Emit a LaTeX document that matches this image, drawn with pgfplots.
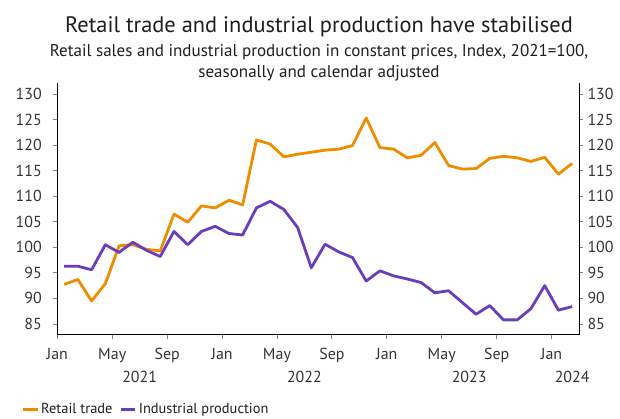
\documentclass[border=0pt]{standalone}
\usepackage{pgfplots}
\pgfplotsset{compat=1.18}
\usepackage{pgfplotstable}
\usepackage{fontspec}
\setmainfont{PT Sans}

\definecolor{retail}{RGB}{240,140,0}
\definecolor{indprod}{RGB}{106,61,186}
\definecolor{txt}{RGB}{30,30,30}
\definecolor{ticklbl}{RGB}{51,51,51}

% Monthly index values, m = months since Jan 2021
\pgfplotstableread{
m  retail industrial
0  92.75  96.3
1  93.7   96.3
2  89.5   95.6
3  92.9   100.5
4  100.3  99.0
5  100.5  101.0
6  99.6   99.4
7  99.3   98.2
8  106.5  103.1
9  104.9  100.5
10 108.1  103.1
11 107.7  104.1
12 109.2  102.7
13 108.3  102.4
14 121.0  107.7
15 120.2  109.0
16 117.7  107.4
17 118.2  103.9
18 118.6  96.0
19 119.0  100.6
20 119.2  99.1
21 119.9  98.0
22 125.3  93.4
23 119.5  95.4
24 119.2  94.4
25 117.5  93.8
26 118.0  93.1
27 120.5  91.1
28 116.0  91.5
29 115.3  89.2
30 115.4  86.9
31 117.4  88.6
32 117.8  85.8
33 117.5  85.8
34 116.8  88.0
35 117.6  92.5
36 114.3  87.7
37 116.4  88.4
}\indexdata

\pgfplotsset{
  commonaxis/.style={
    at={(57.3bp,83.3bp)}, anchor=south west,
    scale only axis, width=521.7bp, height=252bp,
    xmin=0, xmax=38, ymin=82.9, ymax=132.2,
    ytick={85,90,...,130},
    tick align=outside, major tick length=4bp,
    axis line style={black, line width=0.8bp},
    tick style={color=gray, line width=0.8bp},
    /pgf/number format/assume math mode=true,
    ticklabel style={font=\fontsize{16}{18}\selectfont, text=ticklbl},
  },
}
\tikzset{
  yearlabel/.style={anchor=base, text=ticklbl, font=\fontsize{16}{18}\selectfont, yshift=-48bp},
}

\begin{document}
\begin{tikzpicture}[x=1bp,y=1bp]
\useasboundingbox (0,0) rectangle (620,418);
\begin{axis}[
  commonaxis,
  clip mode=individual,
  axis x line*=bottom, axis y line*=left,
  xtick={0,4,...,36},
  xticklabels={Jan,May,Sep,Jan,May,Sep,Jan,May,Sep,Jan},
  xticklabel style={anchor=base, yshift=-21bp},
  yticklabel style={anchor=east, xshift=-8bp},
  legend style={at={(axis description cs:-0.0682,-0.296)}, anchor=west,
    draw=none, fill=none, inner sep=0pt, legend columns=-1,
    font=\fontsize{14.5}{16}\selectfont, text=txt,
    /tikz/every even column/.append style={column sep=5bp}},
  legend image code/.code={\draw[#1, line width=3bp] (0bp,0bp) -- (14.3bp,0bp);},
]
\addplot[retail, line width=2.8bp, line join=round]
  table[x expr=\thisrow{m}+0.5, y=retail] {\indexdata};
\addlegendentry{Retail trade}
\addplot[indprod, line width=2.8bp, line join=round]
  table[x expr=\thisrow{m}+0.5, y=industrial] {\indexdata};
\addlegendentry{Industrial production}

\node[yearlabel] at (axis cs:6,82.9) {2021};
\node[yearlabel] at (axis cs:18,82.9) {2022};
\node[yearlabel] at (axis cs:30,82.9) {2023};
\node[yearlabel] at (axis cs:37.5,82.9) {2024};
\end{axis}

\begin{axis}[
  commonaxis,
  axis y line*=right, axis x line=none,
  yticklabel style={anchor=west, xshift=1bp},
]
\end{axis}

\node[anchor=base, text=txt, font=\fontsize{22.5}{26}\selectfont]
  at (319,385.3) {Retail trade and industrial production have stabilised};
\node[anchor=base, text=txt, font=\fontsize{17.1}{19}\selectfont]
  at (319,362) {Retail sales and industrial production in constant prices, Index, 2021=100,};
\node[anchor=base, text=txt, font=\fontsize{17.1}{19}\selectfont]
  at (319,340.7) {seasonally and calendar adjusted};
\end{tikzpicture}
\end{document}
